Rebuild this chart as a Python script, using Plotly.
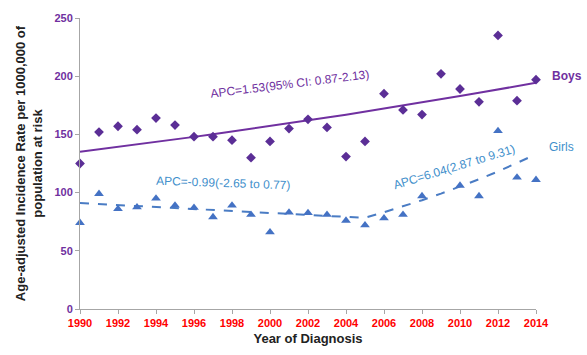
import plotly.graph_objects as go

years = list(range(1990, 2015))

boys_rate = [125, 152, 157, 154, 164, 158, 148, 148, 145, 130, 144, 155, 163,
             156, 131, 144, 185, 171, 167, 202, 189, 178, 235, 179, 197]
girls_rate = [74, 99, 86, 87.5, 95, 89, 87, 79, 89, 81, 66, 83, 82.5,
              81, 76, 72, 78, 81, 97, None, 106, 97, 153, 113, 111]

# Joinpoint trend model: start level and annual percent change per segment
boys_start, boys_apc = 135, 1.53
girls_start = 91
girls_joinpoint = 2005
girls_apc1, girls_apc2 = -0.99, 6.04

x_ticks = list(range(1990, 2015, 2))
y_ticks = [0, 50, 100, 150, 200, 250]

boys_trend = [boys_start * (1 + boys_apc / 100) ** (y - years[0]) for y in years]
girls_join_level = girls_start * (1 + girls_apc1 / 100) ** (girls_joinpoint - years[0])
girls_trend = [
    girls_start * (1 + girls_apc1 / 100) ** (y - years[0]) if y <= girls_joinpoint
    else girls_join_level * (1 + girls_apc2 / 100) ** (y - girls_joinpoint)
    for y in years
]

PURPLE = "#7030A0"
PURPLE_MK = "#5B2E96"
BLUE_MK = "#4472C4"
BLUE_LINE = "#4A7CC4"
BLUE_TXT = "#3F8FCB"
FONT = "Liberation Sans, Arial, sans-serif"

fig = go.Figure()
fig.add_trace(go.Scatter(x=years, y=boys_trend, mode="lines",
                         line=dict(color=PURPLE, width=2), cliponaxis=False))
fig.add_trace(go.Scatter(x=years, y=girls_trend, mode="lines",
                         line=dict(color=BLUE_LINE, width=2, dash="dash"), cliponaxis=False))
fig.add_trace(go.Scatter(x=years, y=boys_rate, mode="markers",
                         marker=dict(symbol="diamond", size=7.5, color=PURPLE_MK),
                         cliponaxis=False))
fig.add_trace(go.Scatter(x=years, y=girls_rate, mode="markers",
                         marker=dict(symbol="triangle-up", size=8.5, color=BLUE_MK),
                         cliponaxis=False))

annotations = [
    dict(x=2001.05, y=193, xref="x", yref="y", text="APC=1.53(95% CI: 0.87-2.13)",
         textangle=-7, font=dict(color=PURPLE, size=12, family=FONT)),
    dict(x=1997.5, y=108, xref="x", yref="y", text="APC=-0.99(-2.65 to 0.77)",
         textangle=2, font=dict(color=BLUE_TXT, size=12, family=FONT)),
    dict(x=2009.7, y=122, xref="x", yref="y", text="APC=6.04(2.87 to 9.31)",
         textangle=-17, font=dict(color=BLUE_TXT, size=12, family=FONT)),
    # series labels sit to the right of the plotting area
    dict(x=1.068, y=0.80, xref="paper", yref="paper", text="<b>Boys</b>",
         font=dict(color=PURPLE, size=12, family=FONT)),
    dict(x=1.057, y=0.555, xref="paper", yref="paper", text="Girls",
         font=dict(color=BLUE_TXT, size=12, family=FONT)),
]
for a in annotations:
    a.update(showarrow=False, xanchor="center", yanchor="middle")

fig.update_layout(
    width=587, height=355,
    margin=dict(l=80, r=51, t=16, b=42),
    paper_bgcolor="white", plot_bgcolor="white",
    showlegend=False,
    font=dict(family=FONT),
    annotations=annotations,
    xaxis=dict(
        range=[1990, 2014], tickvals=x_ticks, ticktext=[f"<b>{t}</b>" for t in x_ticks],
        tickfont=dict(color="#FF0000", size=11), showgrid=False, zeroline=False,
        showline=True, linecolor="#A6A6A6", linewidth=1,
        ticks="outside", ticklen=4, tickcolor="#A6A6A6",
        title=dict(text="<b>Year of Diagnosis</b>", font=dict(size=13, color="#222222"),
                   standoff=5),
    ),
    yaxis=dict(
        range=[0, 250], tickvals=y_ticks, ticktext=[f"<b>{t}</b>" for t in y_ticks],
        tickfont=dict(color=PURPLE, size=11), showgrid=False, zeroline=False,
        showline=True, linecolor="#A6A6A6", linewidth=1,
        ticks="outside", ticklen=4, tickcolor="#A6A6A6",
        title=dict(text="<b>Age-adjusted Incidence Rate per 1000,000 of<br>population at risk</b>",
                   font=dict(size=13, color="#222222"), standoff=8),
    ),
)

fig.write_html("out.html")
